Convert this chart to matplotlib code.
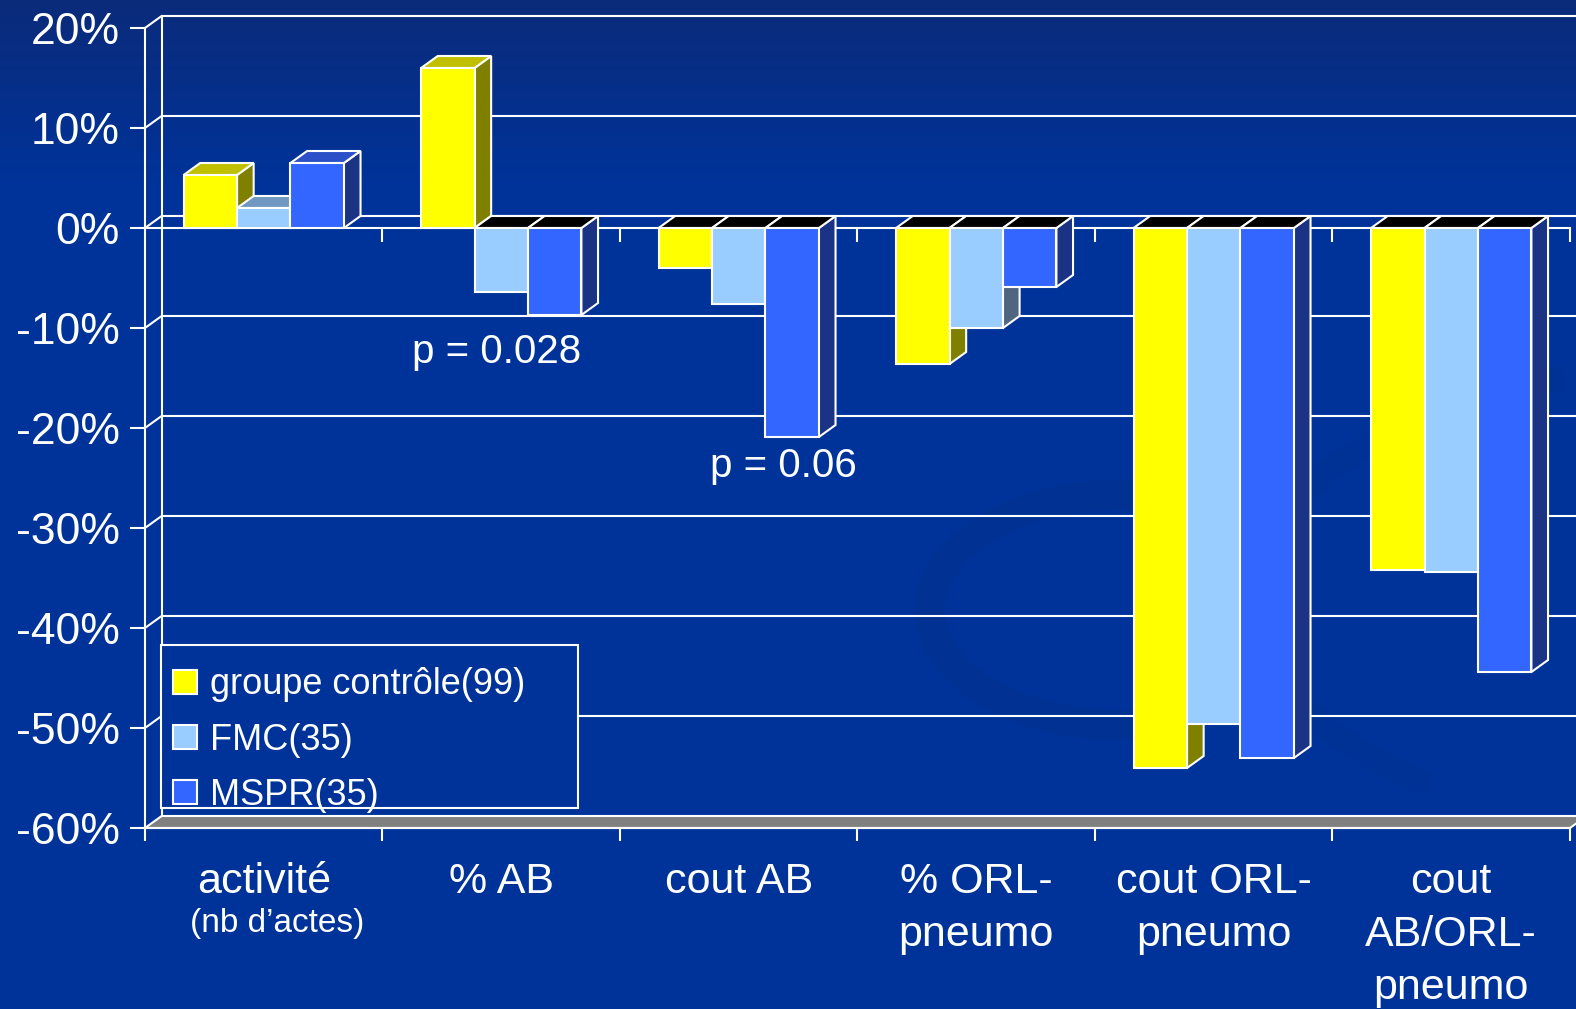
import numpy as np
import matplotlib.pyplot as plt
from matplotlib.patches import Polygon, Patch, Arc, Rectangle
from matplotlib.colors import LinearSegmentedColormap

plt.rcParams['font.family'] = ['Liberation Sans', 'DejaVu Sans']

# variation par rapport à l'année précédente (%)
categories = ['activité', '% AB', 'cout AB', '% ORL-\npneumo', 'cout ORL-\npneumo', 'cout\nAB/ORL-\npneumo']
series_names = ['groupe contrôle(99)', 'FMC(35)', 'MSPR(35)']
controle = [5.3, 16.0, -4.0, -13.6, -54.0, -34.2]
fmc = [2.0, -6.4, -7.6, -10.0, -49.6, -34.4]
mspr = [6.5, -8.7, -20.9, -5.9, -53.0, -44.4]
yticks = [-60, -50, -40, -30, -20, -10, 0, 10, 20]
pvalues = [('p = 0.028', 1.48, -13.5), ('p = 0.06', 2.69, -24.9)]

front = ['#ffff00', '#99ccff', '#3366ff']
top = ['#c0c000', '#7098c0', '#2b50c8']
side = ['#808000', '#506680', '#1a3384']
BG = '#003399'
W = 0.225           # largeur d'une barre (unités de catégorie)
DX, DY = 0.07, 1.2  # décalage de profondeur

fig = plt.figure(figsize=(15.76, 10.09), dpi=100)

# fond dégradé avec quelques volutes discrètes
bg = fig.add_axes([0, 0, 1, 1], zorder=-10)
cmap = LinearSegmentedColormap.from_list('bg', ['#0b2b7a', BG])
grad = np.clip(np.linspace(0, 1, 1009) / 0.18, 0, 1)[:, None]
bg.imshow(grad, cmap=cmap, aspect='auto', extent=[0, 1576, 1009, 0])
swirl = '#00308f'
bg.add_patch(Arc((1120, 610), 380, 230, theta1=80, theta2=300, color=swirl, lw=22, alpha=0.5))
bg.add_patch(Arc((1700, 1250), 1900, 900, theta1=105, theta2=165, color=swirl, lw=26, alpha=0.4))
bg.add_patch(Arc((1750, 600), 1000, 480, theta1=150, theta2=230, color=swirl, lw=18, alpha=0.4))
bg.add_patch(Arc((1900, 1500), 1900, 1100, theta1=120, theta2=160, color=swirl, lw=30, alpha=0.35))
bg.set_xlim(0, 1576)
bg.set_ylim(1009, 0)
bg.axis('off')

ax = fig.add_axes([145 / 1576, 181 / 1009, 1425 / 1576, 800 / 1009])
ax.set_xlim(0, 6)
ax.set_ylim(-60, 20)
ax.patch.set_visible(False)

line_kw = dict(color='white', lw=1.5, clip_on=False, solid_joinstyle='miter')

# paroi du fond et quadrillage
for y in yticks[1:]:
    ax.plot([0, DX, 6 + DX], [y, y + DY, y + DY], zorder=1, **line_kw)
ax.plot([DX, DX], [-60 + DY, 20 + DY], zorder=1, **line_kw)

# sol gris
ax.add_patch(Polygon([(0, -60), (6, -60), (6 + DX, -60 + DY), (DX, -60 + DY)],
                     closed=True, facecolor='#808080', edgecolor='white', lw=1.5,
                     clip_on=False, zorder=1))

# axe des catégories à 0 %
ax.plot([0, 6], [0, 0], zorder=2, **line_kw)
ax.vlines(range(1, 7), -1.4, 0, color='white', lw=1.5, zorder=2, clip_on=False)

# barres 3D : face latérale, dessus, puis face avant
for i in range(len(categories)):
    for j, values in enumerate([controle, fmc, mspr]):
        v = values[i]
        x0 = i + 0.5 - 1.5 * W + j * W
        x1 = x0 + W
        lo, hi = min(v, 0), max(v, 0)
        kw = dict(closed=True, edgecolor='white', lw=1.5, joinstyle='miter', clip_on=False, zorder=3)
        ax.add_patch(Polygon([(x1, lo), (x1 + DX, lo + DY), (x1 + DX, hi + DY), (x1, hi)],
                             facecolor=side[j], **kw))
        ax.add_patch(Polygon([(x0, hi), (x1, hi), (x1 + DX, hi + DY), (x0 + DX, hi + DY)],
                             facecolor=top[j] if v > 0 else 'black', **kw))
        ax.add_patch(Polygon([(x0, 0), (x1, 0), (x1, v), (x0, v)],
                             facecolor=front[j], **kw))

for txt, x, y in pvalues:
    ax.text(x, y, txt, ha='center', va='baseline', fontsize=29, color='white', zorder=5)

# étiquettes des catégories
for i, cat in enumerate(categories):
    for k, line in enumerate(cat.split('\n')):
        ax.text(i + 0.5, -66.5 - 5.3 * k, line, ha='center', va='baseline',
                fontsize=31, color='white', clip_on=False)
ax.text(0.557, -70.4, '(nb d’actes)', ha='center', va='baseline',
        fontsize=24, color='white', clip_on=False)

ax.set_yticks(yticks)
ax.set_yticklabels([f'{t}%' for t in yticks])
ax.set_xticks(range(7))
ax.set_xticklabels([])
ax.tick_params(axis='y', colors='white', labelsize=32, length=11, width=1.5, pad=7)
ax.tick_params(axis='x', colors='white', length=9, width=1.5)
for s in ['top', 'right']:
    ax.spines[s].set_visible(False)
for s in ['left', 'bottom']:
    ax.spines[s].set_color('white')
    ax.spines[s].set_linewidth(1.5)

# cadre de la légende, puis les entrées
ax.add_patch(Rectangle((0.011, 0.025), 0.2928, 0.204, transform=ax.transAxes,
                       facecolor=BG, edgecolor='white', lw=1.5, zorder=9))
handles = [Patch(facecolor=c, edgecolor='white', lw=1.5) for c in front]
leg = ax.legend(handles, series_names, loc='center left', bbox_to_anchor=(0.0197, 0.1098),
                borderaxespad=0, borderpad=0, frameon=False, fontsize=26, labelcolor='white',
                handlelength=0.65, handleheight=0.65, handletextpad=0.38, labelspacing=0.56)
leg.set_zorder(10)

fig.savefig('out.png', dpi=100, facecolor=BG)
